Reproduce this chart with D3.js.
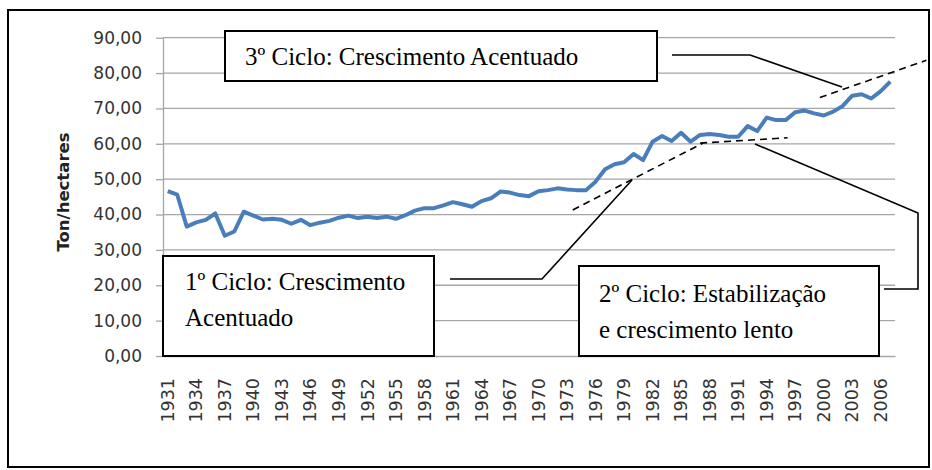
<!DOCTYPE html>
<html>
<head>
<meta charset="utf-8">
<script src="https://cdn.jsdelivr.net/npm/d3@7/dist/d3.min.js"></script>
<style>
  body { margin: 0; background: #fff; }
  svg { display: block; }
</style>
</head>
<body>
<svg id="chart" width="932" height="470"></svg>
<script>
const years = [
  1931, 1932, 1933, 1934, 1935, 1936, 1937, 1938, 1939, 1940,
  1941, 1942, 1943, 1944, 1945, 1946, 1947, 1948, 1949, 1950,
  1951, 1952, 1953, 1954, 1955, 1956, 1957, 1958, 1959, 1960,
  1961, 1962, 1963, 1964, 1965, 1966, 1967, 1968, 1969, 1970,
  1971, 1972, 1973, 1974, 1975, 1976, 1977, 1978, 1979, 1980,
  1981, 1982, 1983, 1984, 1985, 1986, 1987, 1988, 1989, 1990,
  1991, 1992, 1993, 1994, 1995, 1996, 1997, 1998, 1999, 2000,
  2001, 2002, 2003, 2004, 2005, 2006, 2007
]
const yields = [
  46.6, 45.6, 36.6, 37.8, 38.5, 40.3, 34.0, 35.2, 40.8, 39.7,
  38.6, 38.8, 38.5, 37.4, 38.5, 37.0, 37.7, 38.2, 39.1, 39.7,
  39.0, 39.4, 39.0, 39.4, 38.8, 39.8, 41.1, 41.8, 41.8, 42.6,
  43.5, 42.9, 42.2, 43.8, 44.6, 46.5, 46.2, 45.5, 45.2, 46.6,
  46.9, 47.4, 47.1, 46.9, 46.9, 49.3, 52.8, 54.2, 54.8, 57.1,
  55.4, 60.6, 62.2, 60.8, 63.1, 60.6, 62.5, 62.8, 62.5, 62.0,
  62.0, 65.0, 63.6, 67.4, 66.7, 66.7, 68.9, 69.4, 68.6, 68.0,
  69.1, 70.7, 73.6, 74.0, 72.8, 74.9, 77.6
]
const yTicks = [0, 10, 20, 30, 40, 50, 60, 70, 80, 90]
const yearLabels = [
  1931, 1934, 1937, 1940, 1943, 1946, 1949, 1952, 1955, 1958,
  1961, 1964, 1967, 1970, 1973, 1976, 1979, 1982, 1985, 1988,
  1991, 1994, 1997, 2000, 2003, 2006
]
// trend lines drawn by hand in the original, given as [year, value] ends
const trend1 = [[1973.6, 41.3], [1987.3, 60.2]]
const trend2 = [[1987.0, 60.2], [1996.2, 61.7]]
const trend3 = [[1999.6, 73.1], [2010.8, 83.6]]

const callouts = [
  { lines: ['3º Ciclo: Crescimento Acentuado'] },
  { lines: ['1º Ciclo: Crescimento', 'Acentuado'] },
  { lines: ['2º Ciclo: Estabilização', 'e crescimento lento'] }
]

const plot = { left: 163, right: 895, top: 37.7, bottom: 356 }
const svg = d3.select('#chart')

// outer frame
svg.append('rect')
  .attr('x', 8).attr('y', 10)
  .attr('width', 921).attr('height', 457)
  .attr('fill', 'none')
  .attr('stroke', '#000')
  .attr('stroke-width', 2)

const x = d3.scaleBand()
  .domain(years)
  .range([plot.left, plot.right])
const xc = yr => x(yr) + x.bandwidth() / 2
const xYear = d3.scaleLinear()
  .domain([years[0], years[years.length - 1]])
  .range([xc(years[0]), xc(years[years.length - 1])])
const y = d3.scaleLinear()
  .domain([0, 90])
  .range([plot.bottom, plot.top])

const ptBR = d3.formatLocale({ decimal: ',', thousands: '.', grouping: [3], currency: ['', ''] })
const fmt = ptBR.format('.2f')

// gridlines
svg.append('g')
  .selectAll('line')
  .data(yTicks.filter(d => d > 0))
  .join('line')
    .attr('x1', plot.left)
    .attr('x2', plot.right)
    .attr('y1', d => y(d))
    .attr('y2', d => y(d))
    .attr('stroke', '#a6a6a6')
    .attr('stroke-width', 1.3)

const yAxis = svg.append('g')
  .attr('transform', `translate(${plot.left},0)`)
  .call(d3.axisLeft(y).tickValues(yTicks).tickFormat(fmt).tickSize(7).tickPadding(14).tickSizeOuter(0))
yAxis.selectAll('path, line').attr('stroke', '#a6a6a6').attr('stroke-width', 1.3)
yAxis.selectAll('text')
  .attr('fill', '#333')
  .style('font-family', 'DejaVu Sans')
  .style('font-size', '17px')

const xAxis = svg.append('g')
  .attr('transform', `translate(0,${plot.bottom})`)
  .call(d3.axisBottom(x).tickValues(yearLabels).tickSize(0).tickSizeOuter(0))
xAxis.select('.domain').attr('stroke', '#a6a6a6').attr('stroke-width', 1.3)
xAxis.selectAll('text')
  .attr('transform', 'rotate(-90)')
  .attr('x', -22)
  .attr('y', 0)
  .attr('dy', '0.35em')
  .attr('text-anchor', 'end')
  .attr('fill', '#333')
  .style('font-family', 'DejaVu Sans')
  .style('font-size', '17.5px')

svg.append('text')
  .attr('transform', 'translate(63,192) rotate(-90)')
  .attr('text-anchor', 'middle')
  .attr('dy', '0.35em')
  .attr('fill', '#222')
  .style('font-family', 'DejaVu Sans')
  .style('font-weight', 'bold')
  .style('font-size', '16.5px')
  .text('Ton/hectares')

// the series
svg.append('path')
  .datum(years.map((yr, i) => ({ year: yr, value: yields[i] })))
  .attr('fill', 'none')
  .attr('stroke', '#4a7ebb')
  .attr('stroke-width', 4)
  .attr('stroke-linejoin', 'round')
  .attr('d', d3.line()
    .x(d => xc(d.year))
    .y(d => y(d.value))
  )

// dashed trend lines
svg.append('g')
  .selectAll('line')
  .data([trend1, trend2, trend3])
  .join('line')
    .attr('x1', d => xYear(d[0][0]))
    .attr('y1', d => y(d[0][1]))
    .attr('x2', d => xYear(d[1][0]))
    .attr('y2', d => y(d[1][1]))
    .attr('stroke', '#000')
    .attr('stroke-width', 1.6)
    .attr('stroke-dasharray', '7,5')

// callout connectors
const connectors = [
  [[672, 55], [750, 55], [842, 87]],
  [[450, 279], [542, 279], [632, 180]],
  [[884, 289], [918, 289], [918, 213], [755, 144]]
]
svg.append('g')
  .selectAll('path')
  .data(connectors)
  .join('path')
    .attr('d', d3.line())
    .attr('fill', 'none')
    .attr('stroke', '#000')
    .attr('stroke-width', 1.6)

// callout boxes
const boxes = [
  { x: 225, y: 31, w: 432, h: 50, tx: 245, ty: 65 },
  { x: 163, y: 256, w: 271, h: 100, tx: 185, ty: 290 },
  { x: 579, y: 266, w: 300, h: 90, tx: 599, ty: 302 }
]
const box = svg.append('g')
  .selectAll('g')
  .data(callouts)
  .join('g')
box.append('rect')
  .attr('x', (d, i) => boxes[i].x)
  .attr('y', (d, i) => boxes[i].y)
  .attr('width', (d, i) => boxes[i].w)
  .attr('height', (d, i) => boxes[i].h)
  .attr('fill', '#fff')
  .attr('stroke', '#000')
  .attr('stroke-width', 2)
box.append('text')
  .attr('x', (d, i) => boxes[i].tx)
  .attr('y', (d, i) => boxes[i].ty)
  .attr('fill', '#000')
  .style('font-family', 'Liberation Serif')
  .style('font-size', '25px')
  .selectAll('tspan')
  .data((d, i) => d.lines.map(t => ({ t, i })))
  .join('tspan')
    .attr('x', d => boxes[d.i].tx)
    .attr('dy', (d, j) => j === 0 ? 0 : 36)
    .text(d => d.t)
</script>
</body>
</html>
